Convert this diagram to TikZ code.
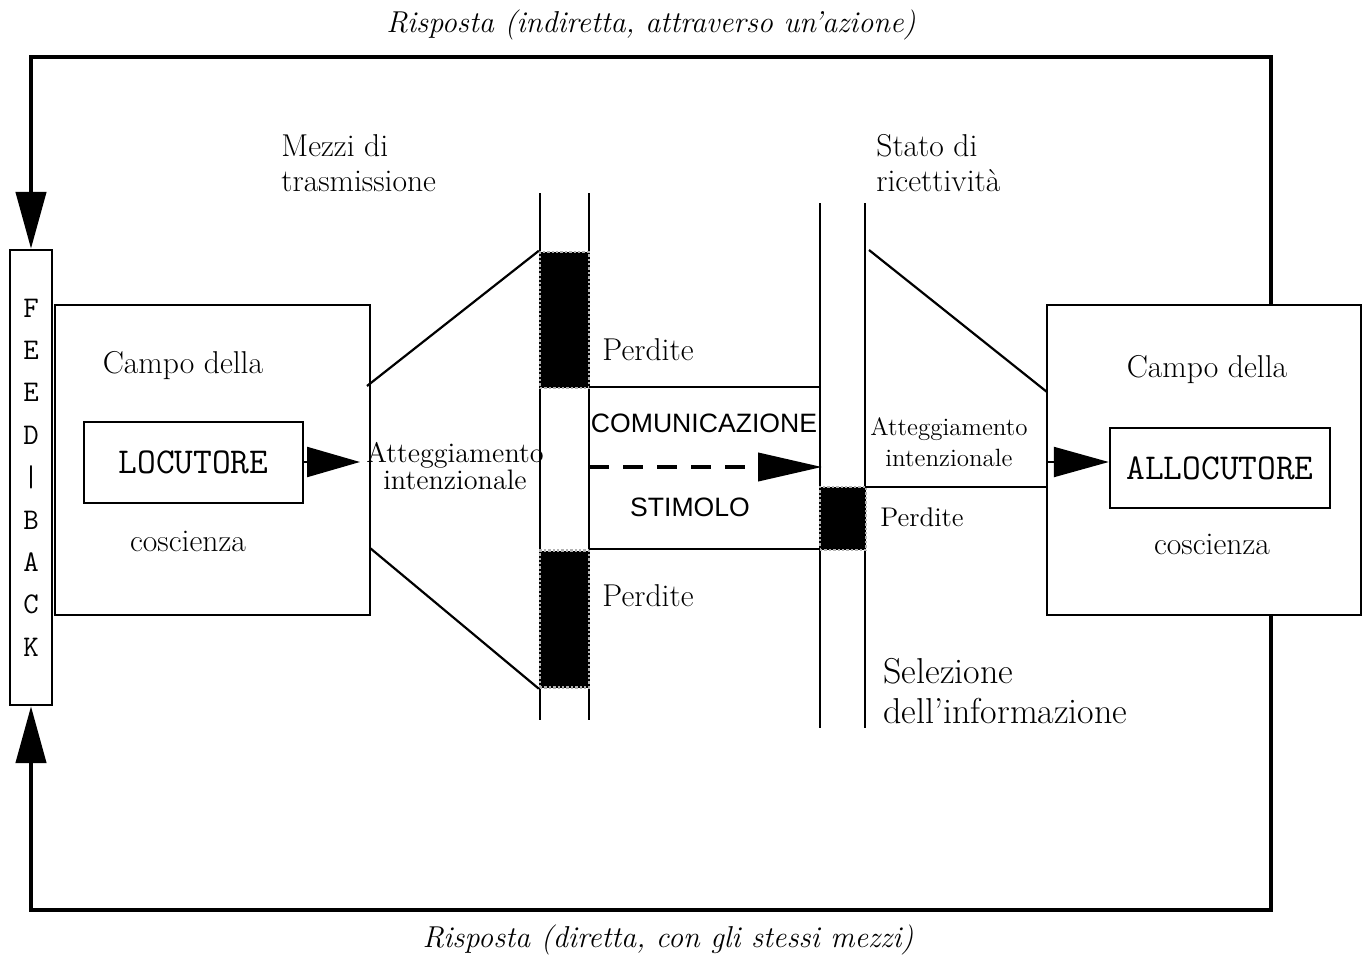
\documentclass[tikz,border=0pt]{standalone}
\usepackage{fontspec}
\newfontfamily\sansf{Liberation Sans}
\usetikzlibrary{arrows.meta}
\begin{document}
\begin{tikzpicture}[x=0.5pt,y=-0.5pt,
  box/.style={draw, line width=1.2pt, inner sep=0pt},
  txt/.style={font=\fontsize{15.8}{17.5}\selectfont, inner sep=0pt},
  mono/.style={font=\ttfamily\fontsize{18.2}{18}\selectfont, inner sep=0pt},
  sans/.style={font=\sansf\fontsize{13.3}{16}\selectfont, inner sep=0pt},
  ital/.style={font=\itshape\fontsize{15.1}{17}\selectfont, inner sep=0pt},
  thin/.style={line width=1.1pt},
  loopline/.style={line width=2.3pt},
  loss/.style={fill=black, draw=gray!60, densely dotted, line width=1.2pt}
]
\useasboundingbox (0,0) rectangle (1367,958);

% titles
\node[ital] (ttop) at (651,25) {Risposta (indiretta, attraverso un'azione)};
\node[ital] (tbot) at (668,940) {Risposta (diretta, con gli stessi mezzi)};

% feedback box
\node[box, minimum width=21pt, minimum height=227.5pt, align=center,
      font=\ttfamily\fontsize{15}{21.2}\selectfont] (fb) at (31,477.5)
  {F\\E\\E\\D\\|\\B\\A\\C\\K};

% field boxes
\node[box, minimum width=157.5pt, minimum height=155pt] (lbox) at (212.5,460) {};
\node[box, minimum width=157pt, minimum height=155pt] (rbox) at (1204,460) {};
\node[box, minimum width=109.5pt, minimum height=40.5pt, mono] (loc) at (193.5,462.5) {LOCUTORE};
\node[box, minimum width=110pt, minimum height=40pt, mono] (alloc) at (1220,468) {ALLOCUTORE};

\node[txt] (c1) at (183,366) {Campo della};
\node[txt] (k1) at (188,541) {coscienza};
\node[txt] (c2) at (1207,370) {Campo della};
\node[txt] (k2) at (1212,544) {coscienza};

% outer loop
\coordinate (rtop) at (1271,305);
\coordinate (rbot) at (1271,615);
\draw[loopline, -{Triangle[length=28.5pt,width=15pt]}] (rtop) -- (1271,57) -- (31,57) -- (fb.north);
\draw[loopline, -{Triangle[length=28.5pt,width=15pt]}] (rbot) -- (1271,910) -- (31,910) -- (fb.south);

% labels top
\node[txt, align=left, anchor=west] (mezzi) at (281,163.5) {Mezzi di\\trasmissione};
\node[txt, align=left, anchor=west] (stato) at (876,163.5) {Stato di\\ricettività};
\node[txt, align=left, anchor=west, font=\fontsize{18}{20}\selectfont] (sel) at (883,691) {Selezione\\dell'informazione};

% channels
\draw[thin] (540,193) -- (540,720);
\draw[thin] (589,193) -- (589,720);
\draw[thin] (820,203) -- (820,728);
\draw[thin] (865,203) -- (865,728);

% loss blocks
\node[loss, minimum width=24.5pt, minimum height=68pt, inner sep=0pt] (l1) at (564.5,320) {};
\node[loss, minimum width=24.5pt, minimum height=68.5pt, inner sep=0pt] (l2) at (564.5,619) {};
\node[loss, minimum width=23pt, minimum height=31.5pt, inner sep=0pt] (l3) at (843,518.5) {};

% horizontal lines
\draw[thin] (589,387) -- (820,387);
\draw[thin] (589,549) -- (820,549);
\draw[thin] (865,487) -- (1047,487);

% diagonals
\draw[thin] (367,386) -- (l1.north west);
\draw[thin] (370,548) -- (l2.south west);
\draw[thin] (869,250) -- (1047,392);

% texts in middle
\node[txt, align=center, font=\fontsize{14.1}{13.5}\selectfont] (att1) at (455,466) {Atteggiamento\\intenzionale};
\node[txt, align=center, font=\fontsize{12.5}{15.5}\selectfont] (att2) at (949,442) {Atteggiamento\\intenzionale};
\node[txt] (p1) at (648,350) {Perdite};
\node[txt] (p2) at (648,596) {Perdite};
\node[txt, font=\fontsize{13.5}{15}\selectfont] (p3) at (922,517) {Perdite};
\node[sans] (com) at (704,423) {COMUNICAZIONE};
\node[sans] (stim) at (690,507) {STIMOLO};

% arrows
\coordinate (a1) at (360,462);
\draw[thin, -{Triangle[length=26.5pt,width=15pt]}] (loc.east |- a1) -- (a1);
\coordinate (d0) at (589,467);
\coordinate (d1) at (822,467);
\draw[line width=2pt, dash pattern=on 10pt off 7pt, -{Triangle[length=32pt,width=14pt]}] (d0) -- (d1);
\coordinate (a2s) at (1047,462);
\draw[thin, -{Triangle[length=27.5pt,width=15pt]}] (a2s) -- (alloc.west |- a2s);
\end{tikzpicture}
\end{document}
